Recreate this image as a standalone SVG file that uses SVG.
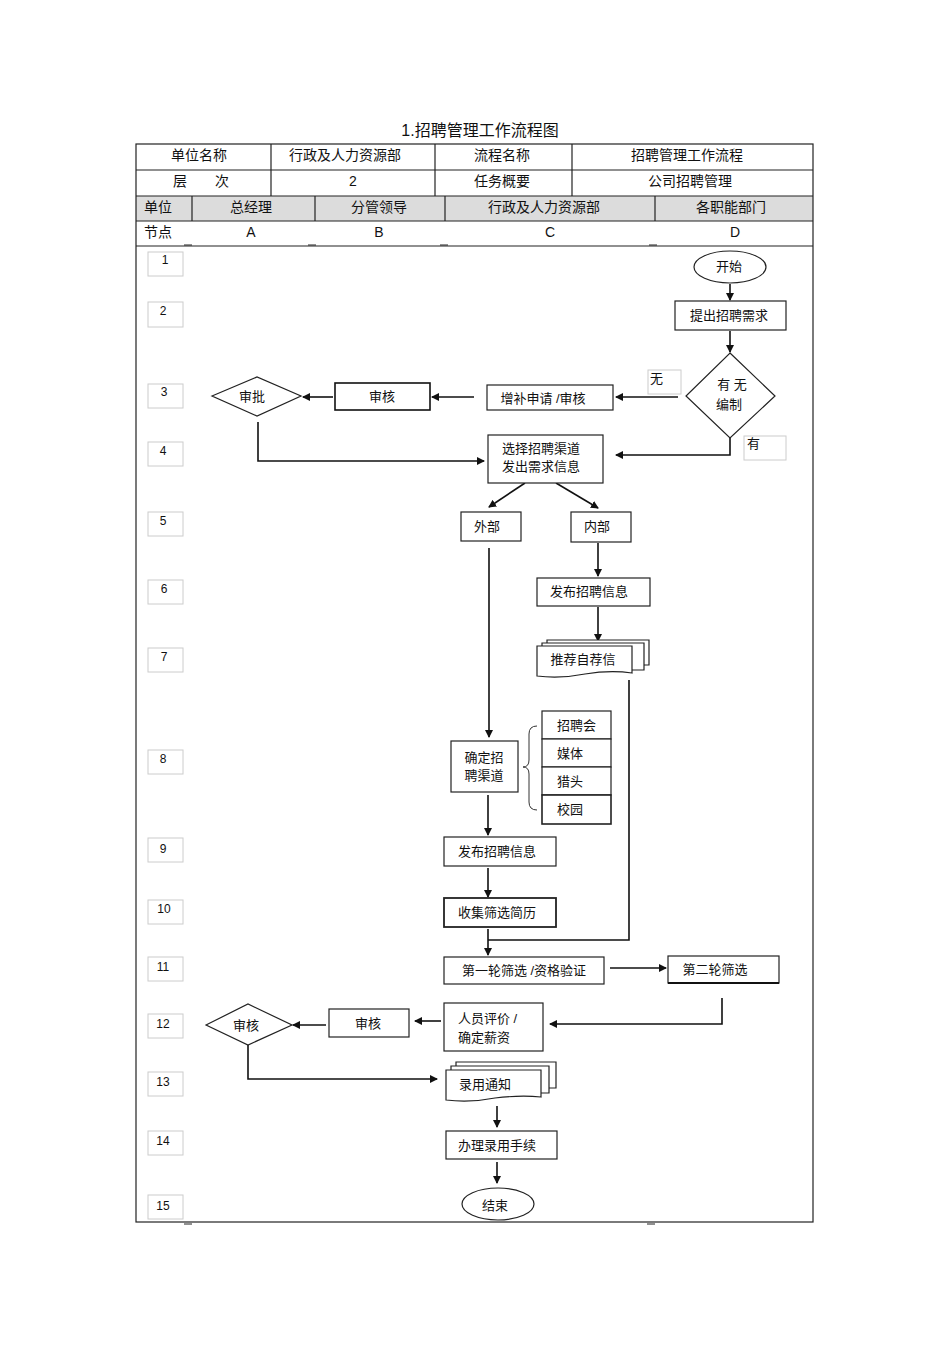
<svg xmlns="http://www.w3.org/2000/svg" width="950" height="1345" viewBox="0 0 950 1345">
<style>
text{font-family:"Liberation Sans","Noto Sans CJK SC",sans-serif;fill:#111}
.t{font-size:13px;text-anchor:middle;dominant-baseline:central}
.l{font-size:13px;dominant-baseline:central}
.h{font-size:14px;text-anchor:middle;dominant-baseline:central}
.n{font-size:12px;text-anchor:middle}
.box{fill:#fff;stroke:#222;stroke-width:1.2}
.bold{fill:#fff;stroke:#111;stroke-width:2}
.nb{fill:#fff;stroke:#ccc;stroke-width:1}
.grid{fill:none;stroke:#222;stroke-width:1.2}
.c{fill:none;stroke:#111;stroke-width:1.6}
.a{fill:none;stroke:#111;stroke-width:1.6;marker-end:url(#ah)}
</style>
<defs>
<marker id="ah" markerWidth="8" markerHeight="8" refX="7" refY="4" orient="auto" markerUnits="userSpaceOnUse">
<path d="M0,0 L8,4 L0,8 Z" fill="#111"/>
</marker>
</defs>
<rect width="950" height="1345" fill="#fff"/>
<text x="480" y="130" style="font-size:16px;text-anchor:middle;dominant-baseline:central">1.招聘管理工作流程图</text>

<g id="header">
<rect x="136" y="196" width="677" height="25" fill="#dcdcdc"/>
<rect x="136" y="144" width="677" height="1078" class="grid"/>
<line x1="136" y1="170" x2="813" y2="170" class="grid"/>
<line x1="136" y1="196" x2="813" y2="196" class="grid"/>
<line x1="136" y1="221" x2="813" y2="221" class="grid"/>
<line x1="136" y1="246" x2="813" y2="246" class="grid"/>
<line x1="271" y1="144" x2="271" y2="196" class="grid"/>
<line x1="435" y1="144" x2="435" y2="196" class="grid"/>
<line x1="572" y1="144" x2="572" y2="196" class="grid"/>
<line x1="192" y1="196" x2="192" y2="221" class="grid"/>
<line x1="315" y1="196" x2="315" y2="221" class="grid"/>
<line x1="445" y1="196" x2="445" y2="221" class="grid"/>
<line x1="655" y1="196" x2="655" y2="221" class="grid"/>
<text x="199" y="155" class="h">单位名称</text>
<text x="345" y="155" class="h">行政及人力资源部</text>
<text x="502" y="155" class="h">流程名称</text>
<text x="687" y="155" class="h">招聘管理工作流程</text>
<text x="201" y="181" class="h">层　　次</text>
<text x="353" y="181" class="h">2</text>
<text x="502" y="181" class="h">任务概要</text>
<text x="690" y="181" class="h">公司招聘管理</text>
<text x="158" y="207" class="h">单位</text>
<text x="251" y="207" class="h">总经理</text>
<text x="379" y="207" class="h">分管领导</text>
<text x="544" y="207" class="h">行政及人力资源部</text>
<text x="731" y="207" class="h">各职能部门</text>
<text x="158" y="232" class="h">节点</text>
<text x="251" y="232" class="h">A</text>
<text x="379" y="232" class="h">B</text>
<text x="550" y="232" class="h">C</text>
<text x="735" y="232" class="h">D</text>
<g stroke="#222" stroke-width="1">
<line x1="184" y1="245" x2="192" y2="245"/>
<line x1="308" y1="245" x2="316" y2="245"/>
<line x1="440" y1="245" x2="448" y2="245"/>
<line x1="649" y1="245" x2="657" y2="245"/>
<line x1="184" y1="1224" x2="192" y2="1224"/>
<line x1="647" y1="1224" x2="655" y2="1224"/>
</g>
</g>

<g id="steps">
<rect x="148" y="252" width="35" height="24" class="nb"/><text x="165" y="264" class="n">1</text>
<rect x="148" y="302" width="35" height="25" class="nb"/><text x="163" y="315" class="n">2</text>
<rect x="148" y="384" width="35" height="24" class="nb"/><text x="164" y="396" class="n">3</text>
<rect x="148" y="442" width="35" height="24" class="nb"/><text x="163" y="455" class="n">4</text>
<rect x="148" y="512" width="35" height="24" class="nb"/><text x="163" y="525" class="n">5</text>
<rect x="148" y="580" width="35" height="24" class="nb"/><text x="164" y="593" class="n">6</text>
<rect x="148" y="648" width="35" height="24" class="nb"/><text x="164" y="661" class="n">7</text>
<rect x="148" y="750" width="35" height="24" class="nb"/><text x="163" y="763" class="n">8</text>
<rect x="148" y="838" width="35" height="24" class="nb"/><text x="163" y="853" class="n">9</text>
<rect x="148" y="900" width="35" height="24" class="nb"/><text x="164" y="913" class="n">10</text>
<rect x="148" y="957" width="35" height="24" class="nb"/><text x="163" y="971" class="n">11</text>
<rect x="148" y="1014" width="35" height="24" class="nb"/><text x="163" y="1028" class="n">12</text>
<rect x="148" y="1072" width="35" height="24" class="nb"/><text x="163" y="1086" class="n">13</text>
<rect x="148" y="1131" width="35" height="24" class="nb"/><text x="163" y="1145" class="n">14</text>
<rect x="148" y="1195" width="35" height="24" class="nb"/><text x="163" y="1210" class="n">15</text>
</g>

<g id="connectors">
<line x1="730" y1="284" x2="730" y2="300" class="a"/>
<line x1="730" y1="331" x2="730" y2="352" class="a"/>
<line x1="678" y1="397" x2="616" y2="397" class="a"/>
<line x1="474" y1="397" x2="432" y2="397" class="a"/>
<line x1="333" y1="397" x2="303" y2="397" class="a"/>
<polyline points="258,422 258,461 484,461" class="a"/>
<polyline points="730,438 730,455 616,455" class="a"/>
<line x1="525" y1="483" x2="489" y2="507" class="a"/>
<line x1="556" y1="483" x2="598" y2="508" class="a"/>
<line x1="489" y1="548" x2="489" y2="737" class="a"/>
<line x1="598" y1="543" x2="598" y2="576" class="a"/>
<line x1="598" y1="607" x2="598" y2="641" class="a"/>
<polyline points="629,680 629,940 488,940" class="c"/>
<line x1="488" y1="795" x2="488" y2="835" class="a"/>
<line x1="488" y1="868" x2="488" y2="897" class="a"/>
<line x1="488" y1="929" x2="488" y2="955" class="a"/>
<line x1="610" y1="968" x2="666" y2="968" class="a"/>
<polyline points="722,998 722,1024 550,1024" class="a"/>
<line x1="441" y1="1021" x2="415" y2="1021" class="a"/>
<line x1="326" y1="1025" x2="293" y2="1025" class="a"/>
<polyline points="248,1045 248,1079 437,1079" class="a"/>
<line x1="497" y1="1106" x2="497" y2="1127" class="a"/>
<line x1="497" y1="1162" x2="497" y2="1183" class="a"/>
</g>

<g id="n-start"><ellipse cx="730" cy="267" rx="36" ry="16" class="box"/><text x="729" y="266" class="t">开始</text></g>
<g id="n-demand"><rect x="675" y="301" width="111" height="29" class="box"/><text x="729" y="315" class="t">提出招聘需求</text></g>
<g id="n-quota"><polygon points="730,353 775,396 730,438 686,396" class="box"/><text x="732" y="384" class="t">有 无</text><text x="729" y="404" class="t">编制</text></g>
<g id="lbl-no"><rect x="648" y="370" width="33" height="24" class="nb"/><text x="650" y="378" class="l">无</text></g>
<g id="lbl-yes"><rect x="744" y="436" width="42" height="24" class="nb"/><text x="747" y="443" class="l">有</text></g>
<g id="n-apply"><rect x="487" y="385" width="126" height="25" class="box"/><text x="543" y="398" class="t">增补申请 /审核</text></g>
<g id="n-reviewB"><rect x="335" y="383" width="95" height="27" class="bold" style="stroke-width:1.6"/><text x="382" y="396" class="t">审核</text></g>
<g id="n-approve"><polygon points="212,396 257,377 301,396 257,416" class="box"/><text x="252" y="396" class="t">审批</text></g>
<g id="n-channel"><rect x="488" y="435" width="115" height="48" class="box"/><text x="541" y="448" class="t">选择招聘渠道</text><text x="541" y="466" class="t">发出需求信息</text></g>
<g id="n-ext"><rect x="461" y="512" width="60" height="29" class="box"/><text x="487" y="526" class="t">外部</text></g>
<g id="n-int"><rect x="571" y="512" width="60" height="30" class="box"/><text x="597" y="526" class="t">内部</text></g>
<g id="n-pub1"><rect x="537" y="578" width="113" height="28" class="box"/><text x="589" y="591" class="t">发布招聘信息</text></g>
<g id="n-refer">
<path d="M547,640 H649 V665 H547 Z" class="box"/>
<path d="M542,643 H644 V670 H542 Z" class="box"/>
<path d="M537,646 H632 V673 Q610,670 585,674 Q560,679 537,676 Z" class="box"/>
<text x="583" y="659" class="t">推荐自荐信</text>
</g>
<g id="n-decide"><rect x="451" y="741" width="67" height="51" class="box"/><text x="484" y="757" class="t">确定招</text><text x="484" y="775" class="t">聘渠道</text></g>
<g id="n-brace"><path d="M537,726 Q529,726 529,734 V760 Q529,767 523,767 Q529,767 529,774 V802 Q529,810 537,810" class="c" style="stroke-width:1;stroke:#333"/></g>
<g id="n-options">
<rect x="542" y="711" width="69" height="28" class="box"/><text x="557" y="725" class="l">招聘会</text>
<rect x="542" y="739" width="69" height="28" class="box"/><text x="557" y="753" class="l">媒体</text>
<rect x="542" y="767" width="69" height="28" class="box"/><text x="557" y="781" class="l">猎头</text>
<rect x="542" y="795" width="69" height="29" class="box" style="stroke-width:1.6"/><text x="557" y="809" class="l">校园</text>
</g>
<g id="n-pub2"><rect x="444" y="837" width="112" height="29" class="box"/><text x="497" y="851" class="t">发布招聘信息</text></g>
<g id="n-collect"><rect x="444" y="898" width="112" height="29" class="box" style="stroke-width:1.8"/><text x="497" y="912" class="t">收集筛选简历</text></g>
<g id="n-first"><rect x="444" y="957" width="160" height="27" class="box"/><text x="524" y="970" class="t">第一轮筛选 /资格验证</text></g>
<g id="n-second"><rect x="668" y="956" width="111" height="27" class="box"/><line x1="668" y1="983" x2="779" y2="983" stroke="#111" stroke-width="2"/><text x="715" y="969" class="t">第二轮筛选</text></g>
<g id="n-eval"><rect x="444" y="1003" width="99" height="48" class="box"/><text x="458" y="1018" class="l">人员评价 /</text><text x="458" y="1037" class="l">确定薪资</text></g>
<g id="n-reviewB2"><rect x="329" y="1009" width="80" height="28" class="box"/><text x="368" y="1023" class="t">审核</text></g>
<g id="n-reviewA"><polygon points="206,1025 248,1004 292,1025 248,1045" class="box"/><text x="246" y="1025" class="t">审核</text></g>
<g id="n-notice">
<path d="M456,1062 H556 V1088 H456 Z" class="box"/>
<path d="M451,1066 H549 V1093 H451 Z" class="box"/>
<path d="M446,1070 H541 V1097 Q520,1095 495,1098 Q470,1103 446,1100 Z" class="box"/>
<text x="485" y="1084" class="t">录用通知</text>
</g>
<g id="n-procedure"><rect x="446" y="1131" width="111" height="28" class="box"/><text x="497" y="1145" class="t">办理录用手续</text></g>
<g id="n-end"><ellipse cx="498" cy="1204" rx="36" ry="16" class="box"/><text x="495" y="1205" class="t">结束</text></g>
</svg>
